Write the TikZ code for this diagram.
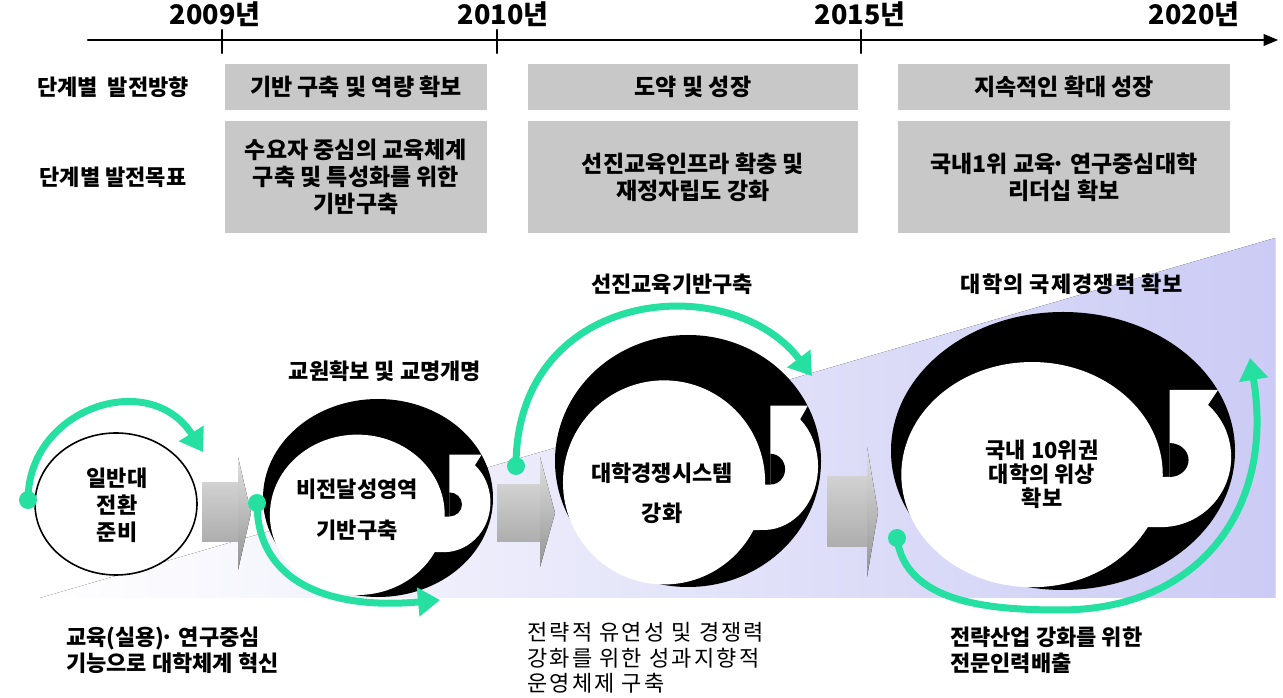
\documentclass[tikz,border=0pt]{standalone}
\usepackage{fontspec}
\setmainfont{Noto Sans CJK KR}
\usepackage{tikz}
\usepackage{xcolor}
\usetikzlibrary{arrows}
\usetikzlibrary{arrows.meta,calc}
\definecolor{boxgray}{RGB}{200,200,200}
\definecolor{mint}{RGB}{38,224,162}
\definecolor{lavender}{RGB}{203,203,245}
\newcommand{\middot}{\kern-0.2em·\ }
\tikzset{
  yearlbl/.style={font=\bfseries\fontsize{27}{30}\selectfont,inner sep=0pt},
  rowlbl/.style={font=\bfseries\fontsize{22}{26}\selectfont,inner sep=0pt},
  phasebox/.style={fill=boxgray,inner sep=0pt,align=center,font=\bfseries\fontsize{23}{27}\selectfont},
  ringtxt/.style={align=center,inner sep=0pt,font=\bfseries\fontsize{22}{27}\selectfont},
  steplbl/.style={font=\bfseries\fontsize{22}{26}\selectfont,inner sep=0pt},
  desctxt/.style={align=left,anchor=west,inner sep=0pt,font=\bfseries\fontsize{22}{26}\selectfont},
  mintarrow/.style={draw=mint,line width=7pt,line cap=butt,-{Triangle[length=22pt,width=28pt]}},
  mintdot/.style={fill=mint},
  blockbody/.style={top color=black!18,bottom color=black!32},
  blockhead/.style={top color=black!12,bottom color=black!42},
}
\newcommand{\cyclering}[4]{%
  \begin{scope}[shift={(#1,#2)},xscale=#3,yscale=#4]
    \fill[black] (0,0) circle (1);
    \fill[white] (-0.18,-0.17) ellipse [x radius=0.76,y radius=0.81];
    \fill[white] (0.62,0.439)-- (0.901,0.439)-- (0.843,0.331) arc[start angle=48,end angle=-90,x radius=0.407,y radius=0.504]-- (0.45,-0.548)-- (0.45,-0.187)-- (0.62,-0.187)-- cycle;
    \fill[black] (0.62,0.057) arc[start angle=90,end angle=-90,x radius=0.11,y radius=0.122]-- cycle;
  \end{scope}}

\begin{document}
\begin{tikzpicture}[line cap=round,line join=round,>=triangle 45,x=1pt,y=1pt]
\useasboundingbox (0,0) rectangle (1283,698);
\fill[left color=white,middle color=lavender!70!white,right color=lavender] (40,100)-- (1275,460)-- (1275,100)-- cycle;

\coordinate (tstart) at (88,658);
\coordinate (tend) at (1278,658);
\draw [line width=2.4pt,->] (tstart)-- (tend);
\draw [line width=2.4pt] (222,668)-- (222,645);
\draw [line width=2.4pt] (497,668)-- (497,645);
\draw [line width=2.4pt] (861,668)-- (861,645);
\node[yearlbl] (y2009) at (215,684) {2009년};
\node[yearlbl] (y2010) at (503,684) {2010년};
\node[yearlbl] (y2015) at (860,684) {2015년};
\node[yearlbl] (y2020) at (1194,684) {2020년};

\node[rowlbl] (dirlbl) at (113,611) {단계별\ \ 발전방향};
\node[rowlbl] (goallbl) at (113,521) {단계별 발전목표};
\node[phasebox,minimum width=262pt,minimum height=46pt] (dirA) at (356,611) {기반 구축 및 역량 확보};
\node[phasebox,minimum width=330pt,minimum height=46pt] (dirB) at (693,611) {도약 및 성장};
\node[phasebox,minimum width=332pt,minimum height=46pt] (dirC) at (1064,611) {지속적인 확대 성장};
\node[phasebox,minimum width=262pt,minimum height=112pt] (goalA) at (356,521) {수요자 중심의 교육체계\\구축 및 특성화를 위한\\기반구축};
\node[phasebox,minimum width=330pt,minimum height=112pt] (goalB) at (693,521) {선진교육인프라 확충 및\\재정자립도 강화};
\node[phasebox,minimum width=332pt,minimum height=112pt] (goalC) at (1064,521) {국내1위 교육\middot 연구중심대학\\리더십 확보};

\fill[blockbody] (202,215) rectangle (238,156);
\fill[blockhead] (238,241)-- (251,185)-- (238,128)-- cycle;
\fill[blockbody] (497,213) rectangle (540,156);
\fill[blockhead] (540,241)-- (555,185)-- (540,131)-- cycle;
\fill[blockbody] (827,221) rectangle (867,151);
\fill[blockhead] (867,251)-- (878,186)-- (867,121)-- cycle;

\draw[line width=1.6pt,fill=white] (116,194) ellipse [x radius=81,y radius=71];
\cyclering{378}{200}{115}{99}
\cyclering{688}{237}{133}{126}
\cyclering{1063}{247}{172}{139}

\node[ringtxt] (ring1) at (117,193) {일반대\\전환\\준비};
\node[ringtxt,font=\bfseries\fontsize{22}{41}\selectfont] (ring2) at (357,188) {비전달성영역\\기반구축};
\node[ringtxt,font=\bfseries\fontsize{22}{40}\selectfont] (ring3) at (662,205) {대학경쟁시스템\\강화};
\node[ringtxt,font=\bfseries\fontsize{22}{24}\selectfont] (ring4) at (1042,224) {국내 10위권\\대학의 위상\\확보};

\coordinate (dot1) at (28,198);
\coordinate (tip1) at (203,246);
\coordinate (dot2) at (257,195);
\coordinate (tip2) at (440,98);
\coordinate (dot3) at (516,232);
\coordinate (tip3) at (812,322);
\coordinate (dot4) at (897,160);
\coordinate (low4) at (1060,88);
\coordinate (tip4) at (1250,340);
\draw[mintarrow] (dot1) .. controls (28,290) and (150,330) .. (tip1);
\draw[mintarrow] (dot2) .. controls (257,115) and (330,88) .. (tip2);
\draw[mintarrow] (dot3) .. controls (516,410) and (730,430) .. (tip3);
\draw[mintarrow] (dot4) .. controls (905,95) and (990,88) .. (low4) .. controls (1200,88) and (1275,190) .. (tip4);
\fill[mintdot] (dot1) circle (9);
\fill[mintdot] (dot2) circle (9);
\fill[mintdot] (dot3) circle (9);
\fill[mintdot] (dot4) circle (9);

\node[steplbl] (step2) at (385,327) {교원확보 및 교명개명};
\node[steplbl] (step3) at (672,414) {선진교육기반구축};
\node[steplbl,font=\bfseries\fontsize{22}{26}\selectfont\addfontfeature{LetterSpace=5}] (step4) at (1072,414) {대학의 국제경쟁력 확보};

\node[desctxt] (desc1) at (66,48) {교육(실용)\middot 연구중심\\기능으로 대학체계 혁신};
\node[desctxt,font=\fontsize{22}{25.5}\selectfont\addfontfeature{LetterSpace=10}] (desc3) at (527,40) {전략적 유연성 및 경쟁력\\강화를 위한 성과지향적\\운영체제 구축};
\node[desctxt] (desc4) at (950,48) {전략산업 강화를 위한\\전문인력배출};
\end{tikzpicture}
\end{document}
